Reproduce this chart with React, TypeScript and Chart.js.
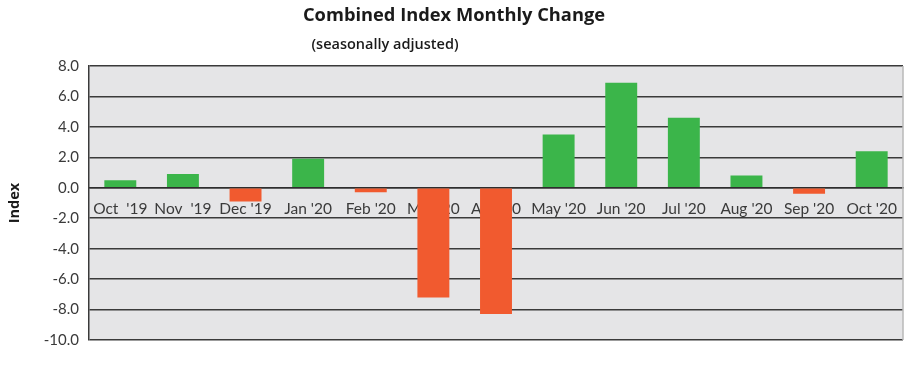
import React, { useEffect, useRef } from "react";
import { Chart, registerables } from "chart.js";

Chart.register(...registerables);

const months = ["Oct  '19", "Nov  '19", "Dec '19", "Jan '20", "Feb '20", "Mar '20", "Apr '20", "May '20", "Jun '20", "Jul '20", "Aug '20", "Sep '20", "Oct '20"];
const changes = [0.5, 0.9, -0.9, 1.9, -0.3, -7.2, -8.3, 3.5, 6.9, 4.6, 0.8, -0.4, 2.4];
const yMin = -10;
const yMax = 8;
const yStep = 2;
const titleText = "Combined Index Monthly Change";
const subtitleText = "(seasonally adjusted)";
const yTitle = "Index";

const GREEN = "#3bb54a";
const RED = "#f15a2f";
const FONT = "Lato, 'Open Sans', sans-serif";
const TFONT = "'Open Sans', Lato, sans-serif";

const decorPlugin = {
  id: "decor",
  beforeDraw(chart: any) {
    const { ctx, chartArea: a } = chart;
    ctx.save();
    ctx.fillStyle = "#e5e5e7";
    ctx.fillRect(a.left, a.top, a.right - a.left, a.bottom - a.top);
    ctx.restore();
  },
  afterDraw(chart: any) {
    const { ctx, chartArea: a } = chart;
    ctx.save();
    ctx.strokeStyle = "#b8b8b8";
    ctx.lineWidth = 1.5;
    ctx.beginPath();
    ctx.moveTo(a.right, a.top);
    ctx.lineTo(a.right, a.bottom);
    ctx.stroke();
    ctx.fillStyle = "#1a1a1a";
    ctx.textAlign = "center";
    ctx.textBaseline = "middle";
    ctx.font = `bold 18.3px ${TFONT}`;
    ctx.fillText(titleText, 454, 16);
    ctx.font = `600 14.5px ${TFONT}`;
    ctx.fillText(subtitleText, 385, 45);
    ctx.translate(15, 203);
    ctx.rotate(-Math.PI / 2);
    ctx.font = `bold 14.5px ${TFONT}`;
    ctx.fillText(yTitle, 0, 0);
    ctx.restore();
  },
};

export default function App() {
  const ref = useRef<HTMLCanvasElement>(null);
  useEffect(() => {
    if (!ref.current) return;
    const chart = new Chart(ref.current, {
      type: "bar",
      data: {
        labels: months,
        datasets: [
          {
            data: changes,
            backgroundColor: changes.map((v) => (v >= 0 ? GREEN : RED)),
            barPercentage: 0.51,
            categoryPercentage: 1,
          },
        ],
      },
      options: {
        animation: false,
        responsive: false,
        maintainAspectRatio: false,
        layout: { padding: { left: 0, top: 66, right: 15, bottom: 28 } },
        plugins: { legend: { display: false }, tooltip: { enabled: false } },
        scales: {
          x: {
            position: { y: 0 } as any,
            grid: { display: false, drawTicks: false },
            border: { display: true, color: "#2e2e2e", width: 1.5 },
            ticks: {
              color: "#3a3a3a",
              font: { family: FONT, size: 15.5 },
              padding: 12,
              maxRotation: 0,
              autoSkip: false,
            },
          },
          y: {
            min: yMin,
            max: yMax,
            afterFit(scale: any) {
              scale.width = 89;
            },
            grid: { color: "#3a3a3a", lineWidth: 1.5, drawTicks: false },
            border: { display: true, color: "#3a3a3a", width: 1.5 },
            ticks: {
              stepSize: yStep,
              color: "#3a3a3a",
              font: { family: FONT, size: 15 },
              padding: 10,
              callback: (v: any) => Number(v).toFixed(1),
            },
          },
        },
      },
      plugins: [decorPlugin],
    });
    return () => chart.destroy();
  }, []);
  return (
    <div style={{ position: "fixed", left: 0, top: 0, width: 918, height: 368, background: "#fff" }}>
      <canvas ref={ref} width={918} height={368} style={{ width: 918, height: 368 }} />
    </div>
  );
}
